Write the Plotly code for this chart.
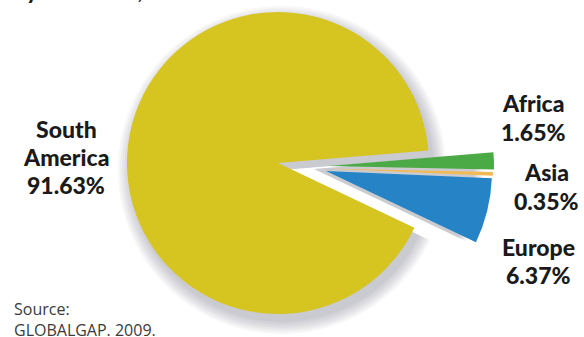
import plotly.graph_objects as go

# GLOBALGAP-certified area by continent, 2009 (percent share)
continents = ["South America", "Africa", "Asia", "Europe"]
shares = [91.63, 1.65, 0.35, 6.37]
slice_colors = ["#D6C420", "#4BA946", "#F2B955", "#2583C6"]

label_lines = [["South", "America"], ["Africa"], ["Asia"], ["Europe"]]
title_text = "by continent, 2009."
source_lines = ["Source:", "GLOBALGAP. 2009."]

W, H = 584, 337
ROTATION = 115.4
CLEAR = "rgba(0,0,0,0)"


def dom(cx, cy, r):
    """Square pie domain (paper units) for a pie centred at pixel (cx, cy) with radius r."""
    r = min(r, cy, H - cy, cx, W - cx)
    return dict(x=[max(0, (cx - r) / W), min(1, (cx + r) / W)],
                y=[max(0, 1 - (cy + r) / H), min(1, 1 - (cy - r) / H)])


def pie(colors, cx, cy, r):
    return go.Pie(
        labels=continents, values=shares, sort=False, direction="clockwise",
        rotation=ROTATION, textinfo="none", hoverinfo="skip", showlegend=False,
        marker=dict(colors=colors, line=dict(width=0)),
        domain=dom(cx, cy, r),
    )


fig = go.Figure()

# soft drop shadow under the large slice
for k in range(1, 8):
    fig.add_trace(pie(["rgba(40,40,50,0.035)", CLEAR, CLEAR, CLEAR], 282, 170, 150 + 2 * k))

# soft drop shadow under the exploded slices, spilling into the gap
for k in range(1, 6):
    fig.add_trace(pie([CLEAR, "rgba(40,40,50,0.05)", "rgba(40,40,50,0.05)",
                       "rgba(40,40,50,0.05)"], 314, 169, 158 + 2 * k))

# main slice
fig.add_trace(pie([slice_colors[0], CLEAR, CLEAR, CLEAR], 278, 163, 151))

# exploded slices, each nudged away from the centre
small_centres = {1: (328, 166), 2: (327, 168.5), 3: (326, 171)}
for i, (cx, cy) in small_centres.items():
    cols = [CLEAR] * 4
    cols[i] = slice_colors[i]
    fig.add_trace(pie(cols, cx, cy, 166))

# data labels
label_pos = [(66, [129, 157, 185]), (533, [103, 132]), (546, [172, 201]), (538, [247, 275])]
anns = []
for i, (x, ys) in enumerate(label_pos):
    lines = label_lines[i] + [f"{shares[i]:.2f}%"]
    for txt, y in zip(lines, ys):
        anns.append(dict(x=x / W, y=1 - y / H, xref="paper", yref="paper",
                         text=txt, showarrow=False,
                         xanchor="center", yanchor="middle",
                         font=dict(family="Lato", size=23, weight=900, color="#1a1a1a")))

# title (sits at the very top edge)
anns.append(dict(x=12 / W, y=1 - 6 / H, xref="paper", yref="paper",
                 text=title_text, showarrow=False,
                 xanchor="left", yanchor="bottom",
                 font=dict(family="Lato", size=22, weight=900, color="#1a1a1a")))

# source note
anns.append(dict(x=12 / W, y=1 - 319 / H, xref="paper", yref="paper",
                 text="<br>".join(source_lines), showarrow=False,
                 xanchor="left", yanchor="middle", align="left",
                 font=dict(family="Open Sans", size=16, color="#3a3a3a")))

fig.update_layout(
    width=W, height=H, margin=dict(l=0, r=0, t=0, b=0),
    paper_bgcolor="white", plot_bgcolor="white",
    annotations=anns, showlegend=False,
)

fig.write_html("out.html")
